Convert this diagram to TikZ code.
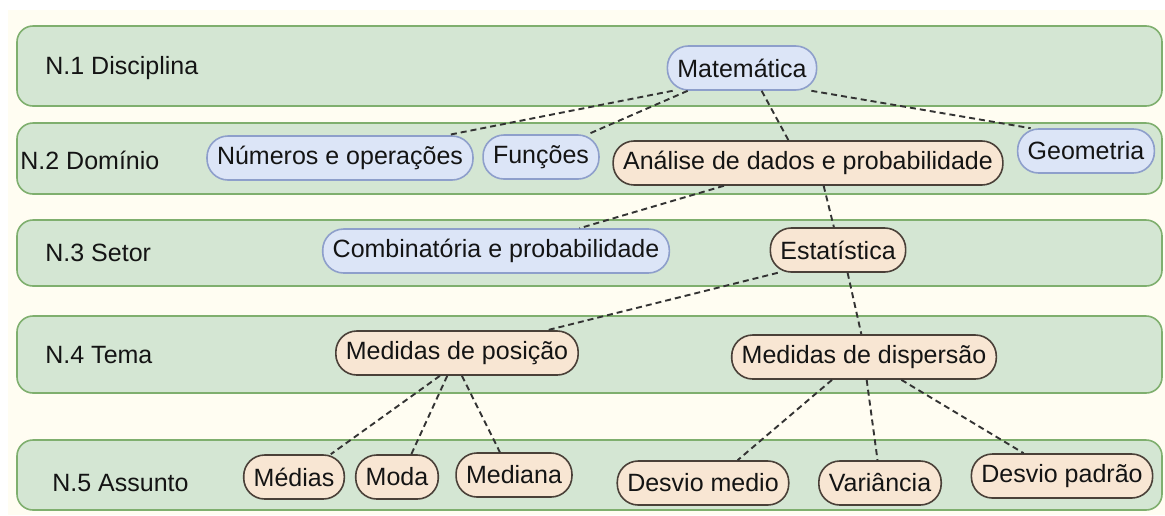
\documentclass[tikz,border=0pt]{standalone}
\usepackage{fontspec}
\setmainfont{Liberation Sans}
\usetikzlibrary{calc}
\definecolor{cream}{HTML}{FFFDF2}
\definecolor{bandfill}{HTML}{D4E6D3}
\definecolor{banddraw}{HTML}{7FAF6E}
\definecolor{bluefill}{HTML}{DCE5F7}
\definecolor{bluedraw}{HTML}{8E9FCB}
\definecolor{orfill}{HTML}{F8E6D3}
\definecolor{ordraw}{HTML}{4A4038}
\begin{document}
\begin{tikzpicture}[x=0.5pt,y=-0.5pt, font=\fontsize{12.5}{15}\selectfont,
 band/.style={draw=banddraw, fill=bandfill, line width=0.8pt, rounded corners=8pt},
 concept/.style={rounded corners=10.5pt, minimum height=22pt, inner xsep=5pt, inner ysep=2pt, line width=0.8pt, text=black!92},
 bluec/.style={concept, draw=bluedraw, fill=bluefill},
 orc/.style={concept, draw=ordraw, fill=orfill},
 lbl/.style={anchor=west, inner sep=0pt, text=black!92},
 link/.style={dash pattern=on 3pt off 2pt, line width=0.95pt, draw=black!80}]
\useasboundingbox (0,0) rectangle (1165,515);
\fill[white] (0,0) rectangle (1165,515);
\fill[cream] (8,10) rectangle (1165,515);
% bands
\path[band] (17,26) rectangle (1162,106);
\path[band] (17,123) rectangle (1162,194);
\path[band] (17,220) rectangle (1162,286);
\path[band] (17,316) rectangle (1162,393);
\path[band] (17,440) rectangle (1162,510);
% band labels
\node[lbl] (l1) at (45,68) {N.1 Disciplina};
\node[lbl] (l2) at (20,160) {N.2 Domínio};
\node[lbl] (l3) at (45,253) {N.3 Setor};
\node[lbl] (l4) at (45,355) {N.4 Tema};
\node[lbl] (l5) at (52,483) {N.5 Assunto};
% concepts
\node[bluec] (mat) at (742,68) {Matemática};
\node[bluec] (num) at (340,158) {Números e operações};
\node[bluec] (fun) at (541,157) {Funções};
\node[orc] (ana) at (808,163) {Análise de dados e probabilidade};
\node[bluec] (geo) at (1086,151) {Geometria};
\node[bluec] (comb) at (496,251) {Combinatória e probabilidade};
\node[orc] (est) at (838,250) {Estatística};
\node[orc] (pos) at (457,353) {Medidas de posição};
\node[orc] (disp) at (864,357) {Medidas de dispersão};
\node[orc] (med) at (294,477) {Médias};
\node[orc] (moda) at (397,477) {Moda};
\node[orc] (mediana) at (514,475) {Mediana};
\node[orc] (dmed) at (703,483) {Desvio medio};
\node[orc] (var) at (880,483) {Variância};
\node[orc] (dpad) at (1062,476) {Desvio padrão};
% links
\draw[link] ($(mat.south west)!0.04!(mat.south east)$) -- ($(num.north west)!0.90!(num.north east)$);
\draw[link] ($(mat.south west)!0.14!(mat.south east)$) -- ($(fun.north west)!0.90!(fun.north east)$);
\draw[link] ($(mat.south west)!0.63!(mat.south east)$) -- ($(ana.north west)!0.45!(ana.north east)$);
\draw[link] ($(mat.south west)!0.96!(mat.south east)$) -- ($(geo.north west)!0.10!(geo.north east)$);
\draw[link] ($(ana.south west)!0.285!(ana.south east)$) -- ($(comb.north west)!0.74!(comb.north east)$);
\draw[link] ($(ana.south west)!0.54!(ana.south east)$) -- ($(est.north west)!0.47!(est.north east)$);
\draw[link] ($(est.south west)!0.06!(est.south east)$) -- ($(pos.north west)!0.87!(pos.north east)$);
\draw[link] ($(est.south west)!0.57!(est.south east)$) -- ($(disp.north west)!0.49!(disp.north east)$);
\draw[link] ($(pos.south west)!0.43!(pos.south east)$) -- ($(med.north west)!0.86!(med.north east)$);
\draw[link] ($(pos.south west)!0.46!(pos.south east)$) -- ($(moda.north west)!0.67!(moda.north east)$);
\draw[link] ($(pos.south west)!0.52!(pos.south east)$) -- ($(mediana.north west)!0.38!(mediana.north east)$);
\draw[link] ($(disp.south west)!0.38!(disp.south east)$) -- ($(dmed.north west)!0.70!(dmed.north east)$);
\draw[link] ($(disp.south west)!0.51!(disp.south east)$) -- ($(var.north west)!0.48!(var.north east)$);
\draw[link] ($(disp.south west)!0.64!(disp.south east)$) -- ($(dpad.north west)!0.29!(dpad.north east)$);
\end{tikzpicture}
\end{document}
